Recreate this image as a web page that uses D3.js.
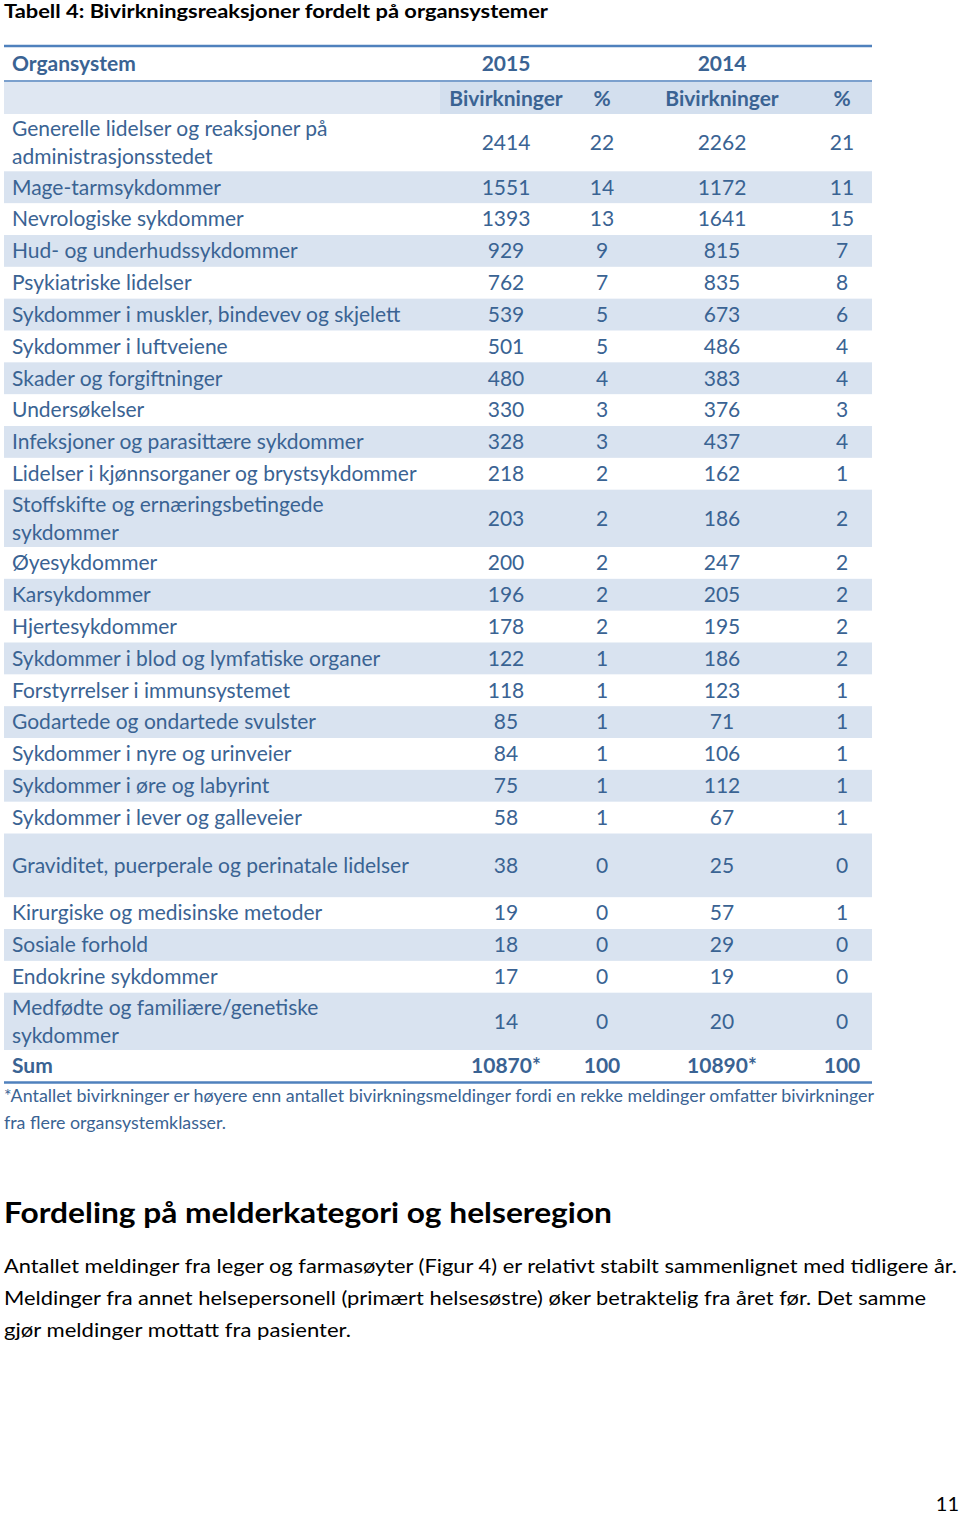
<!DOCTYPE html>
<html lang="no">
<head>
<meta charset="UTF-8">
<title>Tabell 4</title>
<script src="https://d3js.org/d3.v7.min.js"></script>
<style>
  body { margin: 0; background: #fff; }
  svg { display: block; font-family: Lato, "Open Sans", sans-serif; }
</style>
</head>
<body>
<script>
// Table content
const title = "Tabell 4: Bivirkningsreaksjoner fordelt på organsystemer";
const years = ["2015", "2014"];
const subHeaders = ["Bivirkninger", "%", "Bivirkninger", "%"];
const organs = [
  "Generelle lidelser og reaksjoner på\nadministrasjonsstedet",
  "Mage-tarmsykdommer",
  "Nevrologiske sykdommer",
  "Hud- og underhudssykdommer",
  "Psykiatriske lidelser",
  "Sykdommer i muskler, bindevev og skjelett",
  "Sykdommer i luftveiene",
  "Skader og forgiftninger",
  "Undersøkelser",
  "Infeksjoner og parasittære sykdommer",
  "Lidelser i kjønnsorganer og brystsykdommer",
  "Stoffskifte og ernæringsbetingede\nsykdommer",
  "Øyesykdommer",
  "Karsykdommer",
  "Hjertesykdommer",
  "Sykdommer i blod og lymfatiske organer",
  "Forstyrrelser i immunsystemet",
  "Godartede og ondartede svulster",
  "Sykdommer i nyre og urinveier",
  "Sykdommer i øre og labyrint",
  "Sykdommer i lever og galleveier",
  "Graviditet, puerperale og perinatale lidelser",
  "Kirurgiske og medisinske metoder",
  "Sosiale forhold",
  "Endokrine sykdommer",
  "Medfødte og familiære/genetiske\nsykdommer"
];
const count2015 = [2414, 1551, 1393, 929, 762, 539, 501, 480, 330, 328, 218, 203, 200, 196, 178, 122, 118, 85, 84, 75, 58, 38, 19, 18, 17, 14];
const pct2015   = [22, 14, 13, 9, 7, 5, 5, 4, 3, 3, 2, 2, 2, 2, 2, 1, 1, 1, 1, 1, 1, 0, 0, 0, 0, 0];
const count2014 = [2262, 1172, 1641, 815, 835, 673, 486, 383, 376, 437, 162, 186, 247, 205, 195, 186, 123, 71, 106, 112, 67, 25, 57, 29, 19, 20];
const pct2014   = [21, 11, 15, 7, 8, 6, 4, 4, 3, 4, 1, 2, 2, 2, 2, 2, 1, 1, 1, 1, 1, 0, 1, 0, 0, 0];
const sumRow = ["Sum", "10870*", "100", "10890*", "100"];
const footnote = [
  "*Antallet bivirkninger er høyere enn antallet bivirkningsmeldinger fordi en rekke meldinger omfatter bivirkninger",
  "fra flere organsystemklasser."
];
const heading = "Fordeling på melderkategori og helseregion";
const paragraph = [
  "Antallet meldinger fra leger og farmasøyter (Figur 4) er relativt stabilt sammenlignet med tidligere år.",
  "Meldinger fra annet helsepersonell (primært helsesøstre) øker betraktelig fra året før. Det samme",
  "gjør meldinger mottatt fra pasienter."
];
const pageNumber = "11";

// Layout
const W = 960, H = 1514;
const tableLeft = 4, tableRight = 872;
const textBlue = "#3a6393";
const lineBlue = "#4f81bd";
const shade = "#d9e3f0";
const fs = 21;

const svg = d3.select("body").append("svg")
  .attr("width", W).attr("height", H)
  .attr("viewBox", [0, 0, W, H]);

// title
svg.append("text")
  .attr("x", 4).attr("y", 18)
  .attr("textLength", 544).attr("lengthAdjust", "spacingAndGlyphs")
  .style("font-weight", "bold").style("font-size", "19.5px").attr("fill", "#000")
  .text(title);

// Rows: unit heights (single line = 1)
const rows = organs.map((name, i) => ({
  name,
  lines: name.split("\n"),
  vals: [count2015[i], pct2015[i], count2014[i], pct2014[i]],
  units: name.includes("\n") ? 1.8 : (name.startsWith("Graviditet") ? 2 : 1)
}));
let acc = 0;
rows.forEach(r => { r.y0 = acc; acc += r.units; r.y1 = acc; });
const totalUnits = acc;

const y = d3.scaleLinear().domain([0, totalUnits]).range([114, 1050]);
const unitPx = y(1) - y(0);
const col = d3.scaleOrdinal().domain([0, 1, 2, 3]).range([506, 602, 722, 842]);
const yearCol = d3.scaleOrdinal().domain(years).range([506, 722]);

// header row
svg.append("text")
  .attr("x", 12).attr("y", 64).attr("dy", "0.35em")
  .style("font-weight", "bold").style("font-size", fs + "px").attr("fill", textBlue)
  .text("Organsystem");
svg.selectAll("text.year").data(years).join("text")
  .attr("class", "year")
  .attr("x", d => yearCol(d)).attr("y", 64).attr("dy", "0.35em")
  .attr("text-anchor", "middle")
  .style("font-weight", "bold").style("font-size", fs + "px").attr("fill", textBlue)
  .text(d => d);

// sub header row
svg.append("rect").attr("x", tableLeft).attr("y", 82).attr("width", 440 - tableLeft).attr("height", 32).attr("fill", "#dfe7f2");
svg.append("rect").attr("x", 440).attr("y", 82).attr("width", tableRight - 440).attr("height", 32).attr("fill", "#d3dfee");
svg.selectAll("text.sub").data(subHeaders).join("text")
  .attr("class", "sub")
  .attr("x", (d, i) => col(i)).attr("y", 99).attr("dy", "0.35em")
  .attr("text-anchor", "middle")
  .style("font-weight", "bold").style("font-size", fs + "px").attr("fill", textBlue)
  .text(d => d);

// body rows
const g = svg.selectAll("g.row").data(rows).join("g").attr("class", "row");
g.filter((d, i) => i % 2 === 1).append("rect")
  .attr("x", tableLeft).attr("y", d => y(d.y0))
  .attr("width", tableRight - tableLeft).attr("height", d => y(d.y1) - y(d.y0))
  .attr("fill", shade);
g.each(function (d) {
  const cy = (y(d.y0) + y(d.y1)) / 2;
  const sel = d3.select(this);
  const n = d.lines.length;
  sel.selectAll("text.lab").data(d.lines).join("text")
    .attr("class", "lab")
    .attr("x", 12).attr("y", (t, j) => cy + (j - (n - 1) / 2) * 28).attr("dy", "0.35em")
    .style("font-size", fs + "px").attr("fill", textBlue)
    .text(t => t);
  sel.selectAll("text.val").data(d.vals).join("text")
    .attr("class", "val")
    .attr("x", (v, j) => col(j)).attr("y", cy).attr("dy", "0.35em")
    .attr("text-anchor", "middle")
    .style("font-size", fs + "px").attr("fill", textBlue)
    .text(v => v);
});

// sum row
const sumY = y(totalUnits) + unitPx / 2;
svg.selectAll("text.sum").data(sumRow).join("text")
  .attr("class", "sum")
  .attr("x", (d, i) => i === 0 ? 12 : col(i - 1)).attr("y", sumY).attr("dy", "0.35em")
  .attr("text-anchor", (d, i) => i === 0 ? "start" : "middle")
  .style("font-weight", "bold").style("font-size", fs + "px").attr("fill", textBlue)
  .text(d => d);

// rules
svg.append("line").attr("x1", tableLeft).attr("x2", tableRight).attr("y1", 46).attr("y2", 46)
  .attr("stroke", lineBlue).attr("stroke-width", 2.5);
svg.append("line").attr("x1", tableLeft).attr("x2", tableRight).attr("y1", 81).attr("y2", 81)
  .attr("stroke", lineBlue).attr("stroke-width", 1.5);
svg.append("line").attr("x1", tableLeft).attr("x2", tableRight).attr("y1", 1082.5).attr("y2", 1082.5)
  .attr("stroke", lineBlue).attr("stroke-width", 2.5);

// footnote
const footWidths = [870, 222];
svg.selectAll("text.foot").data(footnote).join("text")
  .attr("class", "foot")
  .attr("x", 4).attr("y", (d, i) => 1102 + i * 27)
  .attr("textLength", (d, i) => footWidths[i]).attr("lengthAdjust", "spacingAndGlyphs")
  .style("font-size", "17px").attr("fill", textBlue)
  .text(d => d);

// section heading
svg.append("text")
  .attr("x", 4).attr("y", 1223)
  .attr("textLength", 608).attr("lengthAdjust", "spacingAndGlyphs")
  .style("font-weight", "bold").style("font-size", "29px").attr("fill", "#000")
  .text(heading);

// paragraph
const paraWidths = [953, 922, 347];
svg.selectAll("text.para").data(paragraph).join("text")
  .attr("class", "para")
  .attr("x", 4).attr("y", (d, i) => 1273 + i * 32)
  .attr("textLength", (d, i) => paraWidths[i]).attr("lengthAdjust", "spacingAndGlyphs")
  .style("font-size", "20px").attr("fill", "#000")
  .text(d => d);

// page number
svg.append("text")
  .attr("x", 959).attr("y", 1511).attr("text-anchor", "end")
  .style("font-size", "20px").attr("fill", "#000")
  .text(pageNumber);
</script>
</body>
</html>
